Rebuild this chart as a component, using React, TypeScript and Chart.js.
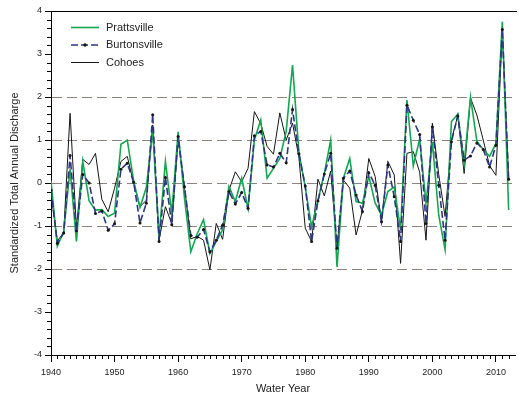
import React, { useEffect, useRef } from "react";
import { Chart, registerables } from "chart.js";

Chart.register(...registerables);

const years = [
  1940, 1941, 1942, 1943, 1944, 1945, 1946, 1947, 1948, 1949,
  1950, 1951, 1952, 1953, 1954, 1955, 1956, 1957, 1958, 1959,
  1960, 1961, 1962, 1963, 1964, 1965, 1966, 1967, 1968, 1969,
  1970, 1971, 1972, 1973, 1974, 1975, 1976, 1977, 1978, 1979,
  1980, 1981, 1982, 1983, 1984, 1985, 1986, 1987, 1988, 1989,
  1990, 1991, 1992, 1993, 1994, 1995, 1996, 1997, 1998, 1999,
  2000, 2001, 2002, 2003, 2004, 2005, 2006, 2007, 2008, 2009,
  2010, 2011, 2012,
];

const prattsville = [
  0.05, -1.47, -1.13, 0.32, -1.36, 0.5, -0.42, -0.63, -0.62, -0.78,
  -0.7, 0.9, 1.0, 0.05, -0.57, -0.1, 1.22, -1.25, 0.5, -0.7,
  1.19, -0.35, -1.6, -1.18, -0.85, -1.64, -1.36, -1.09, -0.08, -0.43,
  0.11, -0.59, 1.0, 1.47, 0.11, 0.34, 0.57, 1.2, 2.74, 0.72,
  -0.1, -1.02, -0.4, 0.22, 1.0, -1.95, 0.11, 0.57, -0.43, -0.47,
  0.16, -0.47, -0.74, -0.2, -0.09, -1.09, 1.93, 0.4, 1.02, -0.47,
  0.95, -0.75, -1.55, 1.43, 1.6, 0.45, 2.0, 0.97, 0.78, 0.62,
  0.92, 3.75, -0.63,
];

const burtonsville = [
  -0.17, -1.4, -1.16, 0.64, -1.11, 0.2, 0.0, -0.71, -0.65, -1.1,
  -0.95, 0.32, 0.46, 0.02, -0.93, -0.47, 1.59, -1.36, 0.13, -0.97,
  1.08, -0.09, -1.22, -1.26, -1.08, -1.6, -1.33, -0.98, -0.2, -0.49,
  -0.22, -0.59, 1.1, 1.2, 0.42, 0.37, 0.69, 0.47, 1.71, 0.68,
  -0.07, -1.36, -0.42, 0.21, 0.69, -1.52, 0.11, 0.28, -0.28, -0.66,
  0.24, -0.05, -0.9, 0.42, -0.32, -1.36, 1.81, 1.46, 1.13, -0.94,
  1.3, -0.05, -1.33, 0.96, 1.56, 0.53, 0.63, 0.93, 0.78, 0.37,
  0.88, 3.57, 0.09,
];

const cohoes = [
  -0.25, -1.35, -1.15, 1.62, -1.05, 0.55, 0.43, 0.69, -0.38, -0.67,
  -0.12, 0.5, 0.62, 0.0, -0.55, -0.4, 1.35, -1.33, -0.55, -0.95,
  1.0, -0.1, -1.3, -1.24, -1.33, -2.02, -0.94, -1.31, -0.17, 0.26,
  0.03, 0.34, 1.66, 1.38, 0.85, 0.67, 1.63, 1.0, 1.39, 0.6,
  -1.05, -1.36, 0.09, -0.3, 0.28, -1.5, 0.07, -0.12, -1.21, -0.64,
  0.57, 0.15, -0.9, 0.5, 0.19, -1.87, 0.69, 0.73, 0.25, -1.33,
  1.39, 0.2, -0.78, 1.0, 1.57, 0.22, 1.98, 1.58, 1.0, 0.4,
  0.18, 3.55, 0.1,
];

const xTickLabels = [1940, 1950, 1960, 1970, 1980, 1990, 2000, 2010];
const yTickLabels = [-4, -3, -2, -1, 0, 1, 2, 3, 4];
const dashedGridValues = [-2, -1, 0, 1, 2];
const seriesNames = ["Prattsville", "Burtonsville", "Cohoes"];

const GREEN = "#14a650";
const NAVY = "#2d3682";
const BLACK = "#151515";
const FONT = "'Liberation Sans', Arial, Helvetica, sans-serif";

const toPoints = (vals: number[]) => years.map((yr, i) => ({ x: yr, y: vals[i] }));

const decorPlugin = {
  id: "decor",
  beforeDatasetsDraw(chart: any) {
    const { ctx, chartArea, scales } = chart;
    const ys = scales.y;
    ctx.save();
    ctx.strokeStyle = "#8d827d";
    ctx.lineWidth = 1;
    ctx.setLineDash([10, 5]);
    for (const v of dashedGridValues) {
      const py = Math.round(ys.getPixelForValue(v)) + 0.5;
      ctx.beginPath();
      ctx.moveTo(chartArea.left + 1, py);
      ctx.lineTo(chartArea.right, py);
      ctx.stroke();
    }
    ctx.setLineDash([]);
    ctx.strokeStyle = "#000";
    const ty = Math.round(ys.getPixelForValue(4)) + 0.5;
    ctx.beginPath();
    ctx.moveTo(chartArea.left, ty);
    ctx.lineTo(chartArea.right + 2, ty);
    ctx.stroke();
    ctx.restore();
  },
  afterDraw(chart: any) {
    const { ctx, chartArea, scales } = chart;
    const xs = scales.x;
    const ys = scales.y;
    ctx.save();
    ctx.strokeStyle = "#000";
    ctx.lineWidth = 1;
    for (let k = -20; k <= 20; k++) {
      if (k % 5 === 0) continue;
      const py = Math.round(ys.getPixelForValue(k / 5)) + 0.5;
      ctx.beginPath();
      ctx.moveTo(chartArea.left - 4, py);
      ctx.lineTo(chartArea.left, py);
      ctx.stroke();
    }
    for (const yr of years) {
      if (yr % 10 === 0) continue;
      const px = Math.round(xs.getPixelForValue(yr)) + 0.5;
      ctx.beginPath();
      ctx.moveTo(px, chartArea.bottom);
      ctx.lineTo(px, chartArea.bottom + 4);
      ctx.stroke();
    }
    const lx0 = 71;
    const lx1 = 99;
    const rows = [27.5, 45, 62.5];
    ctx.font = `11px ${FONT}`;
    ctx.textBaseline = "middle";
    ctx.textAlign = "left";
    ctx.strokeStyle = GREEN;
    ctx.lineWidth = 1.6;
    ctx.beginPath();
    ctx.moveTo(lx0, rows[0]);
    ctx.lineTo(lx1, rows[0]);
    ctx.stroke();
    ctx.strokeStyle = NAVY;
    ctx.lineWidth = 1.6;
    ctx.setLineDash([7, 3]);
    ctx.beginPath();
    ctx.moveTo(lx0, rows[1]);
    ctx.lineTo(lx1, rows[1]);
    ctx.stroke();
    ctx.setLineDash([]);
    ctx.fillStyle = BLACK;
    ctx.beginPath();
    ctx.arc((lx0 + lx1) / 2, rows[1], 1.7, 0, Math.PI * 2);
    ctx.fill();
    ctx.strokeStyle = BLACK;
    ctx.lineWidth = 1;
    ctx.beginPath();
    ctx.moveTo(lx0, rows[2]);
    ctx.lineTo(lx1, rows[2]);
    ctx.stroke();
    ctx.fillStyle = "#222";
    seriesNames.forEach((name, i) => ctx.fillText(name, 106, rows[i]));
    ctx.restore();
  },
};

export default function App() {
  const ref = useRef<HTMLCanvasElement | null>(null);

  useEffect(() => {
    if (!ref.current) return;
    const chart = new Chart(ref.current, {
      type: "line",
      data: {
        datasets: [
          {
            label: seriesNames[0],
            data: toPoints(prattsville),
            borderColor: GREEN,
            borderWidth: 1.6,
            pointRadius: 0,
            tension: 0,
            order: 1,
          },
          {
            label: seriesNames[1],
            data: toPoints(burtonsville),
            borderColor: NAVY,
            borderWidth: 1.6,
            borderDash: [7, 3],
            pointRadius: 1.5,
            pointBackgroundColor: BLACK,
            pointBorderWidth: 0,
            tension: 0,
            order: 0,
          },
          {
            label: seriesNames[2],
            data: toPoints(cohoes),
            borderColor: BLACK,
            borderWidth: 1,
            pointRadius: 0,
            tension: 0,
            order: 2,
          },
        ],
      },
      options: {
        responsive: false,
        animation: false,
        events: [],
        layout: { padding: { top: 11, right: 1, left: 0, bottom: 0 } },
        plugins: {
          legend: { display: false },
          tooltip: { enabled: false },
        },
        scales: {
          x: {
            type: "linear",
            min: 1940,
            max: 2013,
            afterBuildTicks: (s: any) => {
              s.ticks = xTickLabels.map((v) => ({ value: v }));
            },
            afterFit: (s: any) => {
              s.height = 40;
            },
            ticks: {
              font: { family: FONT, size: 9 },
              color: "#222",
              padding: 5,
              maxRotation: 0,
              autoSkip: false,
              callback: (v: any) => String(v),
            },
            grid: {
              display: true,
              drawOnChartArea: false,
              drawTicks: true,
              tickLength: 7,
              tickColor: "#000",
            },
            border: { display: true, color: "#000", width: 1 },
            title: {
              display: true,
              text: "Water Year",
              font: { family: FONT, size: 11 },
              color: "#222",
              padding: { top: 0, bottom: -1 },
            },
          },
          y: {
            type: "linear",
            min: -4,
            max: 4,
            afterBuildTicks: (s: any) => {
              s.ticks = yTickLabels.map((v) => ({ value: v }));
            },
            afterFit: (s: any) => {
              s.width = 51;
            },
            ticks: {
              font: { family: FONT, size: 9 },
              color: "#222",
              padding: 3,
              autoSkip: false,
              callback: (v: any) => String(v),
            },
            grid: {
              display: true,
              drawOnChartArea: false,
              drawTicks: true,
              tickLength: 6,
              tickColor: "#000",
            },
            border: { display: true, color: "#000", width: 1 },
            title: {
              display: true,
              text: "Standardized Total Annual Discharge",
              font: { family: FONT, size: 11 },
              color: "#222",
              padding: { top: 8, bottom: 0 },
            },
          },
        },
      },
      plugins: [decorPlugin],
    });
    return () => chart.destroy();
  }, []);

  return (
    <div style={{ position: "absolute", left: 0, top: 0, width: 519, height: 395 }}>
      <canvas ref={ref} width={519} height={395} style={{ display: "block" }} />
    </div>
  );
}
